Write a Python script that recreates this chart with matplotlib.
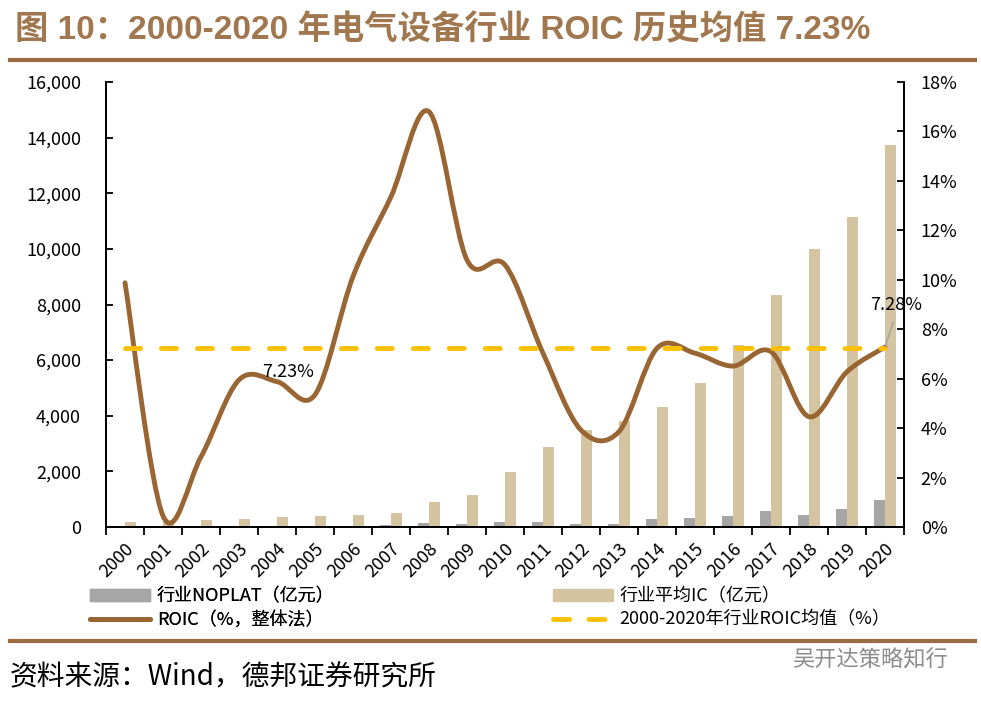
import numpy as np
import matplotlib
matplotlib.use('Agg')
from matplotlib import pyplot as plt
from matplotlib.path import Path
from matplotlib.patches import PathPatch, Patch
from matplotlib.lines import Line2D
from matplotlib.ticker import FuncFormatter

plt.rcParams['font.family'] = ['Noto Sans CJK SC', 'DejaVu Sans']

# data
years = [str(y) for y in range(2000, 2021)]
noplat = [10, 5, 15, 20, 25, 30, 35, 60, 130, 110, 170, 165, 90, 105,
          270, 335, 395, 560, 420, 660, 975]
ic = [170, 190, 250, 285, 345, 380, 425, 505, 895, 1155, 1960, 2880, 3490,
      3810, 4330, 5190, 6560, 8330, 9990, 11160, 13740]
roic = [9.88, 0.45, 2.84, 5.95, 5.88, 5.35, 10.13, 13.36, 16.8, 10.8, 10.6,
        7.03, 3.92, 3.86, 7.23, 7.03, 6.51, 7.09, 4.46, 6.28, 7.28]
roic_avg = 7.23

BROWN = '#996633'
GOLD = '#FFC000'
GRAY = '#A6A6A6'
BEIGE = '#D5C4A1'
TITLE_C = '#A0774E'


def smooth_path(xs, ys):
    # Excel-style smoothed line (Catmull-Rom as cubic Bezier)
    pts = np.column_stack([xs, ys]).astype(float)
    n = len(pts)
    verts = [pts[0]]
    codes = [Path.MOVETO]
    for i in range(n - 1):
        p0 = pts[max(i - 1, 0)]
        p1 = pts[i]
        p2 = pts[i + 1]
        p3 = pts[min(i + 2, n - 1)]
        verts += [p1 + (p2 - p0) / 6, p2 - (p3 - p1) / 6, p2]
        codes += [Path.CURVE4] * 3
    return Path(verts, codes)


fig = plt.figure(figsize=(9.81, 7.04), dpi=100)
ax = fig.add_axes([106 / 981, 1 - 527 / 704, 798 / 981, 445 / 704])
ax2 = ax.twinx()

x = np.arange(len(years))
w = 0.29
ax.bar(x - w / 2, noplat, w, color=GRAY)
ax.bar(x + w / 2, ic, w, color=BEIGE)
ax.set_xlim(-0.5, len(years) - 0.5)
ax.set_ylim(0, 16000)
ax.set_yticks(range(0, 16001, 2000))
ax.yaxis.set_major_formatter(FuncFormatter(lambda v, p: f'{int(v):,}'))
ax.tick_params(axis='y', direction='in', length=5, width=1.3, labelsize=13, pad=18)

ax.set_xticks(np.arange(-0.5, len(years), 1))
ax.set_xticklabels([])
ax.tick_params(axis='x', which='major', direction='out', length=6, width=1.3)
ax.set_xticks(x, minor=True)
ax.set_xticklabels(years, minor=True, rotation=45, ha='right', va='top',
                   rotation_mode='anchor', fontsize=13)
ax.tick_params(axis='x', which='minor', length=0, pad=9)

# ROIC line and average on the right axis
ax2.add_patch(PathPatch(smooth_path(x, roic), fill=False, edgecolor=BROWN,
                        lw=3.5, capstyle='round', joinstyle='round'))
ax2.plot(x, [roic_avg] * len(x), color=GOLD, lw=3.5, dashes=(3.1, 4.3),
         dash_capstyle='round')
ax2.set_ylim(0, 18)
ax2.set_yticks(range(0, 19, 2))
ax2.yaxis.set_major_formatter(FuncFormatter(lambda v, p: f'{int(v)}%'))
ax2.tick_params(axis='y', direction='in', length=5, width=1.3, labelsize=13, pad=12)

ax2.text(4.3, 6.25, f'{roic_avg:.2f}%', fontsize=13, ha='center', va='center')
ax2.plot([20, 20.22], [roic[-1], 8.3], color='#A0A0A0', lw=1)
ax2.text(20.3, 9.0, f'{roic[-1]:.2f}%', fontsize=13, ha='center', va='center')

for a in (ax, ax2):
    a.spines['top'].set_visible(False)
    for s in ('left', 'right', 'bottom'):
        a.spines[s].set_linewidth(1.3)

# legend, two columns
leg1 = fig.legend([Patch(color=GRAY), Line2D([], [], color=BROWN, lw=3.5, solid_capstyle='round')],
                  ['行业NOPLAT（亿元）', 'ROIC（%，整体法）'],
                  loc='center left', bbox_to_anchor=(90 / 981, 1 - 608 / 704),
                  frameon=False, fontsize=13, handlelength=3.3, handleheight=0.6,
                  handletextpad=0.4, labelspacing=0.3, borderpad=0, borderaxespad=0)
fig.legend([Patch(color=BEIGE), Line2D([], [], color=GOLD, lw=3.5, dashes=(3.3, 4.0),
                                       dash_capstyle='round')],
           ['行业平均IC（亿元）', '2000-2020年行业ROIC均值（%）'],
           loc='center left', bbox_to_anchor=(553 / 981, 1 - 608 / 704),
           frameon=False, fontsize=13, handlelength=3.3, handleheight=0.6,
           handletextpad=0.4, labelspacing=0.3, borderpad=0, borderaxespad=0)
fig.add_artist(leg1)

# title, rules, source
fig.text(15 / 981, 1 - 30 / 704, '图 10：2000-2020 年电气设备行业 ROIC 历史均值 7.23%',
         fontsize=24, fontweight='bold', color=TITLE_C, va='center',
         family=['Liberation Sans', 'Noto Sans CJK SC'])
fig.add_artist(Line2D([10 / 981, 975 / 981], [1 - 60 / 704] * 2, color='#9C6B3F', lw=3))
fig.add_artist(Line2D([10 / 981, 975 / 981], [1 - 641 / 704] * 2, color='#9C6B3F', lw=3))
fig.text(10 / 981, 1 - 677 / 704, '资料来源：Wind，德邦证券研究所', fontsize=20, va='center')
fig.text(948 / 981, 1 - 660 / 704, '吴开达策略知行', fontsize=16, color='#8C8C8C',
         ha='right', va='center')

fig.savefig('out.png', dpi=100)
